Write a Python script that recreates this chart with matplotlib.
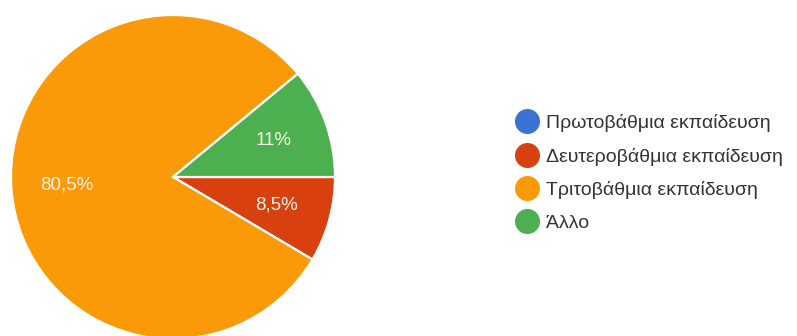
"""Pie chart of education level responses."""

import matplotlib.pyplot as plt
from matplotlib.lines import Line2D

categories = [
    "Πρωτοβάθμια εκπαίδευση",
    "Δευτεροβάθμια εκπαίδευση",
    "Τριτοβάθμια εκπαίδευση",
    "Άλλο",
]
shares = [0.0, 8.5, 80.5, 11.0]
colors = ["#3a72d6", "#d9400f", "#fb9a09", "#4caf50"]

plt.rcParams["font.family"] = ["Liberation Sans", "DejaVu Sans"]

W, H = 797, 336
fig = plt.figure(figsize=(W / 100, H / 100), dpi=100)
ax = fig.add_axes([0, 0, 1, 1])


def pct_label(p):
    if p < 0.5:
        return ""
    text = f"{p:.1f}".rstrip("0").rstrip(".")
    return text.replace(".", ",") + "%"


wedges, _, autotexts = ax.pie(
    shares,
    colors=colors,
    startangle=0,
    counterclock=False,
    radius=162,
    center=(173, H - 177),
    autopct=pct_label,
    pctdistance=0.66,
    wedgeprops=dict(edgecolor="white", linewidth=1.6),
    frame=True,
)
ax.set_xlim(0, W)
ax.set_ylim(0, H)
ax.set_aspect("equal")
ax.axis("off")
for t in autotexts:
    t.set_color("#fdf3e6")
    t.set_fontsize(13.5)

handles = [
    Line2D([], [], marker="o", linestyle="none", markersize=17,
           markerfacecolor=c, markeredgecolor=c)
    for c in colors
]
ax.legend(
    handles,
    categories,
    loc="upper left",
    bbox_to_anchor=(517 / W, 1 - 114 / H),
    bbox_transform=fig.transFigure,
    frameon=False,
    fontsize=14,
    labelcolor="#333333",
    handlelength=1.0,
    handletextpad=0.5,
    labelspacing=0.8,
    borderpad=0,
    borderaxespad=0,
)

fig.savefig("out.png", dpi=100)
